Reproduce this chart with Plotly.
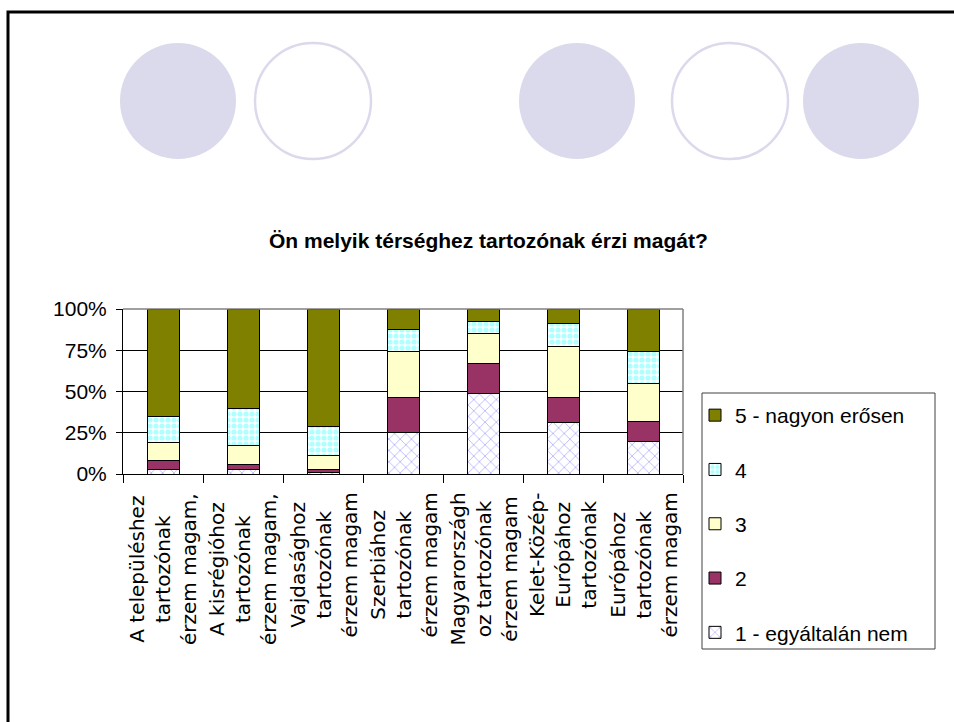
import plotly.graph_objects as go

categories = [
    "A településhez<br>tartozónak<br>érzem magam,",
    "A kisrégióhoz<br>tartozónak<br>érzem magam,",
    "Vajdasághoz<br>tartozónak<br>érzem magam",
    "Szerbiához<br>tartozónak<br>érzem magam",
    "Magyarországh<br>oz tartozónak<br>érzem magam",
    "Kelet-Közép-<br>Európához<br>tartozónak",
    "Európához<br>tartozónak<br>érzem magam",
]
s1 = [3, 2.5, 1, 25, 49, 31, 20]          # 1 - egyáltalán nem
s2 = [5, 3, 1.5, 21.5, 18, 15.5, 12]      # 2
s3 = [11, 11.5, 8.5, 27.5, 18, 31, 23]    # 3
s4 = [16, 23, 17.5, 13.5, 7.5, 14, 19]    # 4
s5 = [65, 60, 71.5, 12.5, 7.5, 8.5, 26]   # 5 - nagyon erősen
series_names = ["1 - egyáltalán nem", "2", "3", "4", "5 - nagyon erősen"]
y_ticks = [0, 25, 50, 75, 100]
y_tick_labels = ["0%", "25%", "50%", "75%", "100%"]
title_text = "Ön melyik térséghez tartozónak érzi magát?"

W, H = 954, 722
L, R, T, B = 123, 683, 309, 474


def px_x(px):
    return (px - L) / (R - L)


def px_y(py):
    return (B - py) / (B - T)


TEXT_FONT = "Liberation Sans, Arial, sans-serif"
LABEL_FONT = "DejaVu Sans, Liberation Sans, sans-serif"

styles = [
    dict(color="white", pattern=dict(shape="x", fgcolor="#9999FF", bgcolor="white",
                                     size=8, solidity=0.15, fillmode="replace")),
    dict(color="#993366"),
    dict(color="#FFFFCC"),
    dict(color="#CCFFFF", pattern=dict(shape=".", fgcolor="#B0FFFF", bgcolor="white",
                                       size=6, solidity=0.6, fillmode="replace")),
    dict(color="#808000"),
]

fig = go.Figure()
n = len(series_names)
for i, (name, vals, st) in enumerate(zip(series_names, [s1, s2, s3, s4, s5], styles)):
    marker = dict(color=st["color"], line=dict(color="black", width=1))
    if "pattern" in st:
        marker["pattern"] = st["pattern"]
    fig.add_trace(go.Bar(x=categories, y=vals, name=name, marker=marker,
                         legendgroup=name, legendrank=n - i))

shapes = []
# slide frame
shapes.append(dict(type="rect", xref="paper", yref="paper",
                   x0=px_x(8), x1=px_x(970), y0=px_y(740), y1=px_y(12),
                   line=dict(color="black", width=3), layer="below"))
# decorative circles
circles = [(178, True), (313, False), (577, True), (730, False), (861, True)]
for cx, filled in circles:
    shapes.append(dict(type="circle", xref="paper", yref="paper",
                       x0=px_x(cx - 58), x1=px_x(cx + 58),
                       y0=px_y(159), y1=px_y(43),
                       fillcolor="#DADAEC" if filled else "rgba(0,0,0,0)",
                       line=dict(color="#DADAEC", width=0 if filled else 2.5),
                       layer="below"))
# plot area border (top and right)
shapes.append(dict(type="line", xref="paper", yref="paper", x0=0, x1=1, y0=1, y1=1,
                   line=dict(color="#808080", width=1.5), layer="above"))
shapes.append(dict(type="line", xref="paper", yref="paper", x0=1, x1=1, y0=0, y1=1,
                   line=dict(color="#808080", width=1.5), layer="above"))
# legend box
shapes.append(dict(type="rect", xref="paper", yref="paper",
                   x0=px_x(702), x1=px_x(935), y0=px_y(649), y1=px_y(393),
                   line=dict(color="#404040", width=1)))

annotations = [dict(text="<b>" + title_text + "</b>", xref="paper", yref="paper",
                    x=px_x(488), y=px_y(227), showarrow=False,
                    font=dict(family=TEXT_FONT, size=21, color="black"))]
for c in categories:
    annotations.append(dict(text=c, xref="x", yref="paper", x=c, y=px_y(491),
                            xanchor="center", yanchor="top", textangle=-90,
                            showarrow=False, align="center",
                            font=dict(family=LABEL_FONT, size=20, color="black")))

fig.update_layout(
    width=W, height=H,
    margin=dict(l=L, r=W - R, t=T, b=H - B, pad=0),
    barmode="stack", bargap=0.6,
    paper_bgcolor="white", plot_bgcolor="white",
    showlegend=True,
    legend=dict(x=px_x(695), y=px_y(395), xanchor="left", yanchor="top",
                traceorder="grouped", tracegroupgap=24, maxheight=420,
                font=dict(family=TEXT_FONT, size=21, color="black"),
                bgcolor="rgba(0,0,0,0)", borderwidth=0),
    xaxis=dict(type="category", showline=True, linecolor="black", linewidth=1,
               ticks="outside", tickson="boundaries", ticklen=8, tickcolor="black",
               showticklabels=False, showgrid=False, fixedrange=True),
    yaxis=dict(range=[0, 100], tickmode="array", tickvals=y_ticks,
               ticktext=y_tick_labels, showline=True,
               linecolor="black", linewidth=1, ticks="outside", ticklen=6,
               tickcolor="black", showgrid=True, gridcolor="black", gridwidth=1,
               zeroline=False, ticklabelstandoff=5, fixedrange=True,
               tickfont=dict(family=TEXT_FONT, size=21, color="black")),
    shapes=shapes, annotations=annotations,
)

fig.write_html("out.html", config={"displayModeBar": False},
               post_script="document.body.style.margin='0';")
